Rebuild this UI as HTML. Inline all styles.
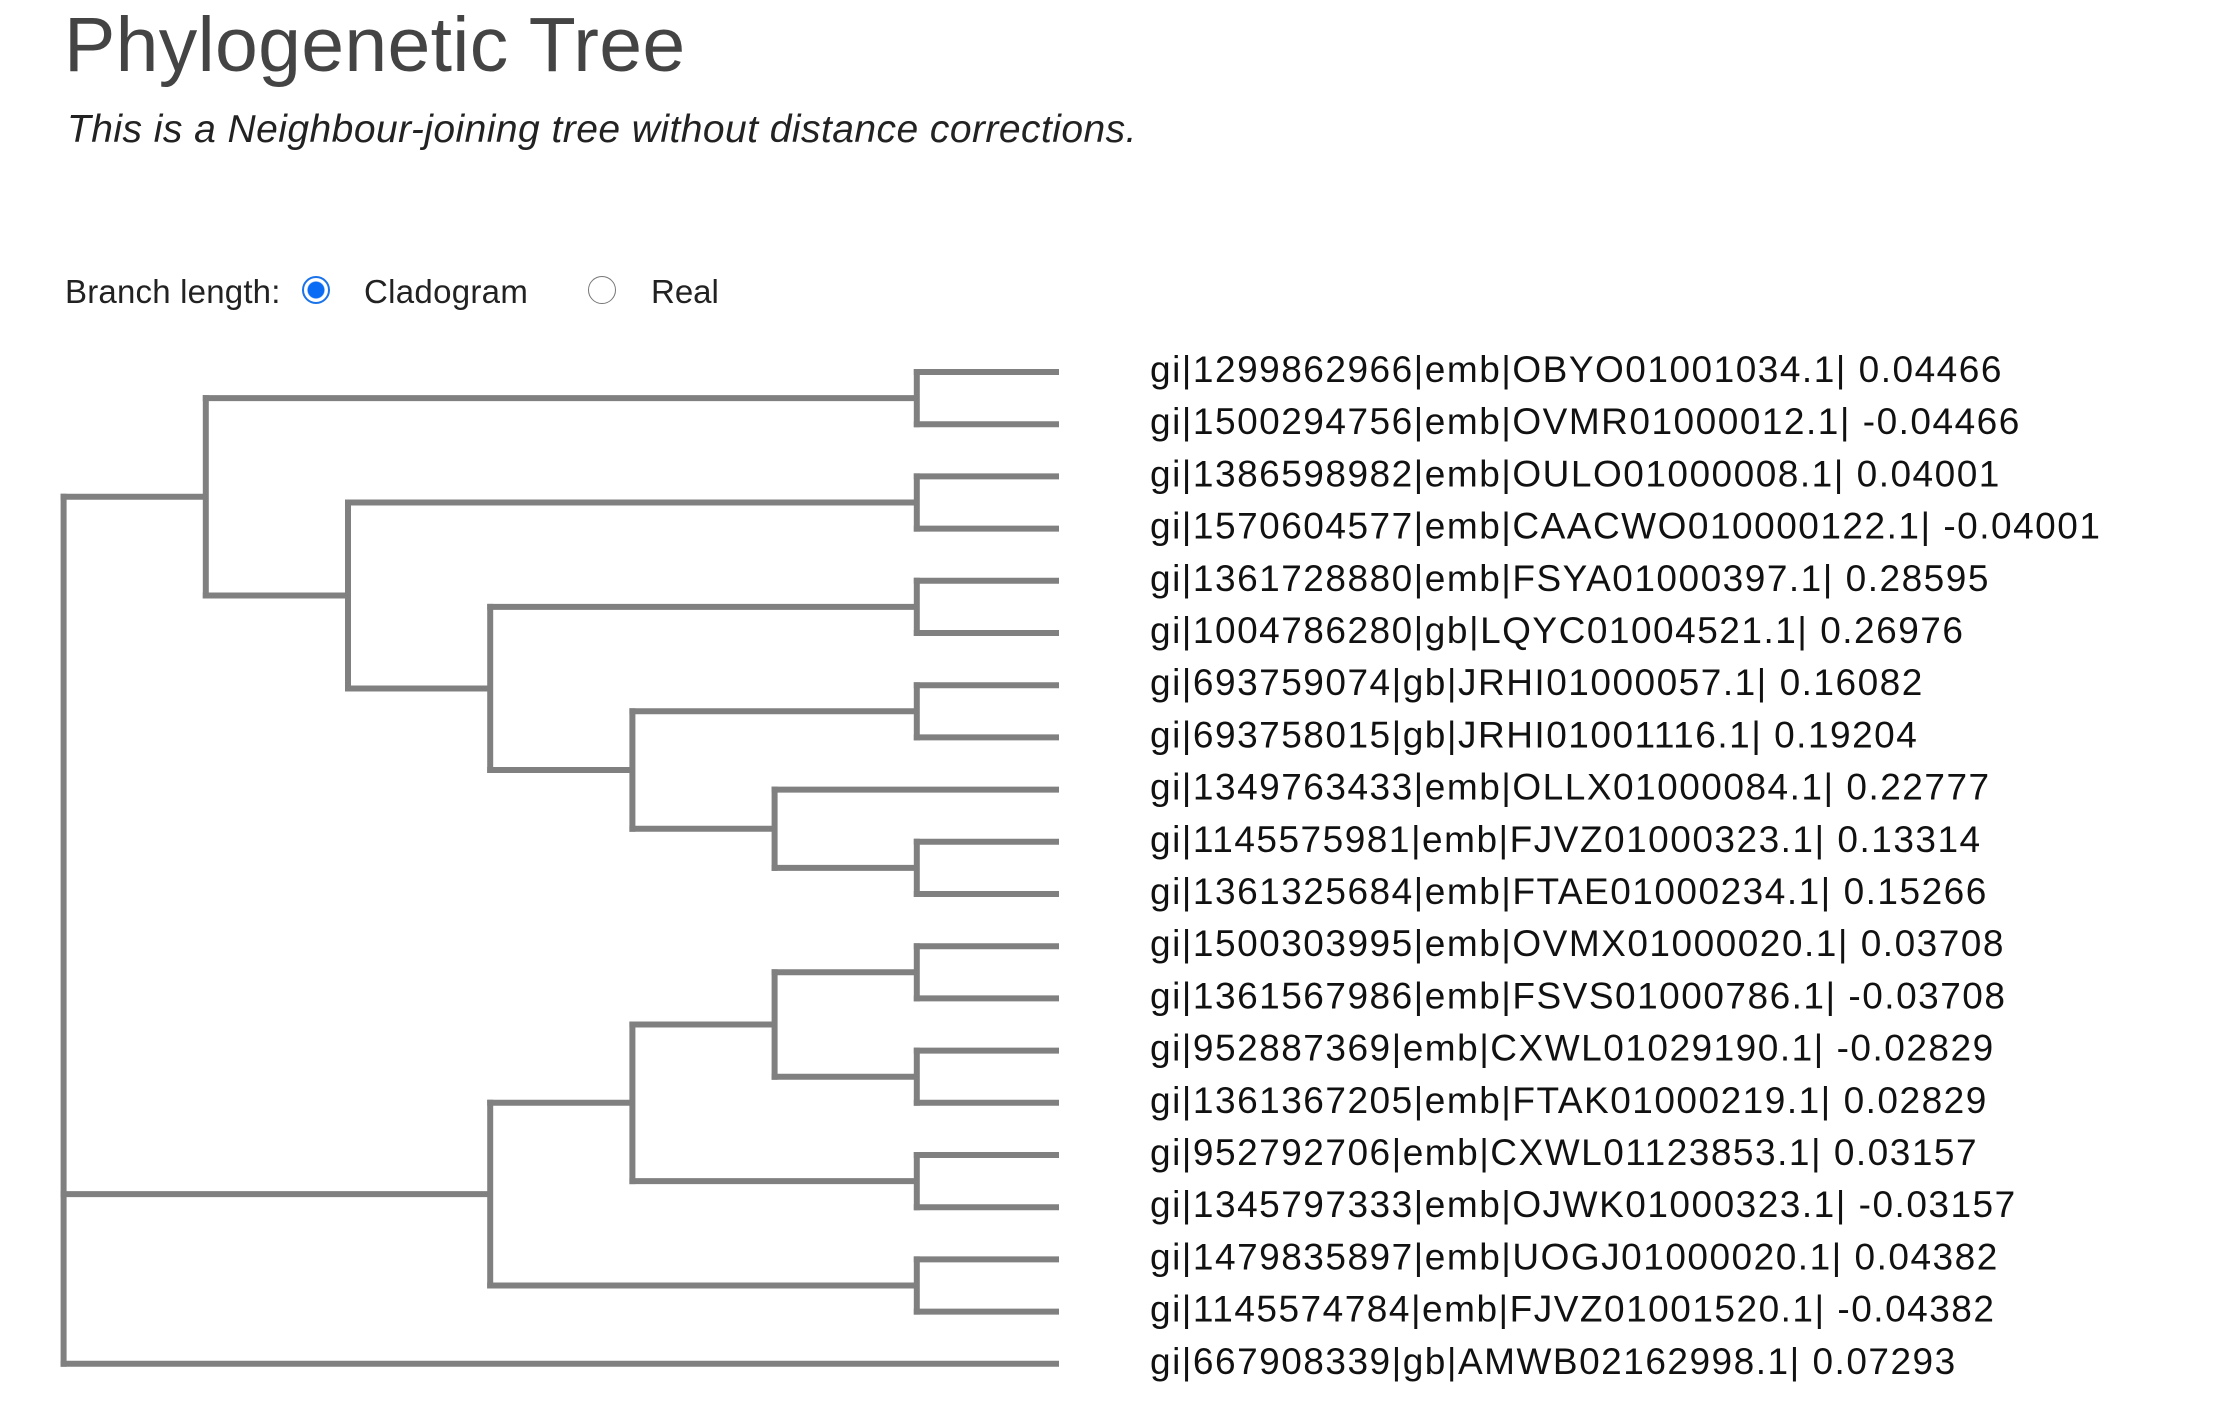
<!DOCTYPE html>
<html><head><meta charset="utf-8">
<style>
html,body{margin:0;padding:0;background:#fff;}
body{width:2229px;height:1424px;position:relative;overflow:hidden;font-family:"Liberation Sans",Arial,sans-serif;}
#title{position:absolute;left:64px;top:0px;font-size:77px;color:#444;margin:0;font-weight:normal;line-height:90px;letter-spacing:0.3px;}
#subtitle{position:absolute;left:67px;top:106px;font-size:39px;font-style:italic;color:#222;line-height:48px;letter-spacing:0.45px;}
#controls{position:absolute;left:65px;top:272px;font-size:33px;color:#222;line-height:40px;letter-spacing:0.2px;}
.radio{position:absolute;top:276px;width:28px;height:28px;border-radius:50%;box-sizing:border-box;}
svg{position:absolute;left:0;top:0;}
</style></head>
<body>
<h1 id="title">Phylogenetic Tree</h1>
<div id="subtitle">This is a Neighbour-joining tree without distance corrections.</div>
<div id="controls">Branch length:</div>
<div class="radio" style="left:302px;border:2px solid #1a73e8;background:radial-gradient(circle,#0a6cf5 0 8px,#fff 9px);"></div>
<div style="position:absolute;left:364px;top:272px;font-size:33px;color:#222;line-height:40px;letter-spacing:0.3px;">Cladogram</div>
<div class="radio" style="left:588px;border:1.5px solid #777;background:#fff;"></div>
<div style="position:absolute;left:651px;top:272px;font-size:33px;color:#222;line-height:40px;">Real</div>
<svg id="tree" width="2229" height="1424"></svg>
<script>
const leafNames = [
"gi|1299862966|emb|OBYO01001034.1| 0.04466",
"gi|1500294756|emb|OVMR01000012.1| -0.04466",
"gi|1386598982|emb|OULO01000008.1| 0.04001",
"gi|1570604577|emb|CAACWO010000122.1| -0.04001",
"gi|1361728880|emb|FSYA01000397.1| 0.28595",
"gi|1004786280|gb|LQYC01004521.1| 0.26976",
"gi|693759074|gb|JRHI01000057.1| 0.16082",
"gi|693758015|gb|JRHI01001116.1| 0.19204",
"gi|1349763433|emb|OLLX01000084.1| 0.22777",
"gi|1145575981|emb|FJVZ01000323.1| 0.13314",
"gi|1361325684|emb|FTAE01000234.1| 0.15266",
"gi|1500303995|emb|OVMX01000020.1| 0.03708",
"gi|1361567986|emb|FSVS01000786.1| -0.03708",
"gi|952887369|emb|CXWL01029190.1| -0.02829",
"gi|1361367205|emb|FTAK01000219.1| 0.02829",
"gi|952792706|emb|CXWL01123853.1| 0.03157",
"gi|1345797333|emb|OJWK01000323.1| -0.03157",
"gi|1479835897|emb|UOGJ01000020.1| 0.04382",
"gi|1145574784|emb|FJVZ01001520.1| -0.04382",
"gi|667908339|gb|AMWB02162998.1| 0.07293"
];
// tree topology: numbers are leaf indices
const treeTopology = [[[0,1],[[2,3],[[4,5],[[6,7],[8,[9,10]]]]]],[[[[11,12],[13,14]],[15,16]],[17,18]],19];

const svg = document.getElementById('tree');
const NS = 'http://www.w3.org/2000/svg';
const leafX = 1059, stepX = 142.2, topY = 372, stepY = 52.2;
function yScale(i){ return topY + i*stepY; }
function height(n){ return Array.isArray(n) ? 1 + Math.max(...n.map(height)) : 0; }
function xScale(h){ return leafX - h*stepX; }
function line(x1,y1,x2,y2,name){
  const l = document.createElementNS(NS,'line');
  l.setAttribute('x1',x1);l.setAttribute('y1',y1);l.setAttribute('x2',x2);l.setAttribute('y2',y2);
  l.setAttribute('stroke','#808080');l.setAttribute('stroke-width','6');
  
  
  svg.appendChild(l);
}
function layout(n){
  if(!Array.isArray(n)) return {x:leafX, y:yScale(n)};
  const x = xScale(height(n));
  const kids = n.map(layout);
  const y = (kids[0].y + kids[kids.length-1].y)/2;
  line(x, kids[0].y-3, x, kids[kids.length-1].y+3, 'branch-vertical');
  kids.forEach(k=>line(x-3, k.y, k.x, k.y, 'branch-horizontal'));
  return {x, y};
}
layout(treeTopology);
leafNames.forEach((name,i)=>{
  const t = document.createElementNS(NS,'text');
  t.setAttribute('x', 1150);
  t.setAttribute('y', yScale(i)+10);
  t.setAttribute('font-size','37');
  t.setAttribute('letter-spacing','1.5');
  t.setAttribute('font-family','"Liberation Sans", Arial, sans-serif');
  t.setAttribute('fill','#111');
  t.textContent = name;
  
  
  svg.appendChild(t);
});
</script>
</body></html>
